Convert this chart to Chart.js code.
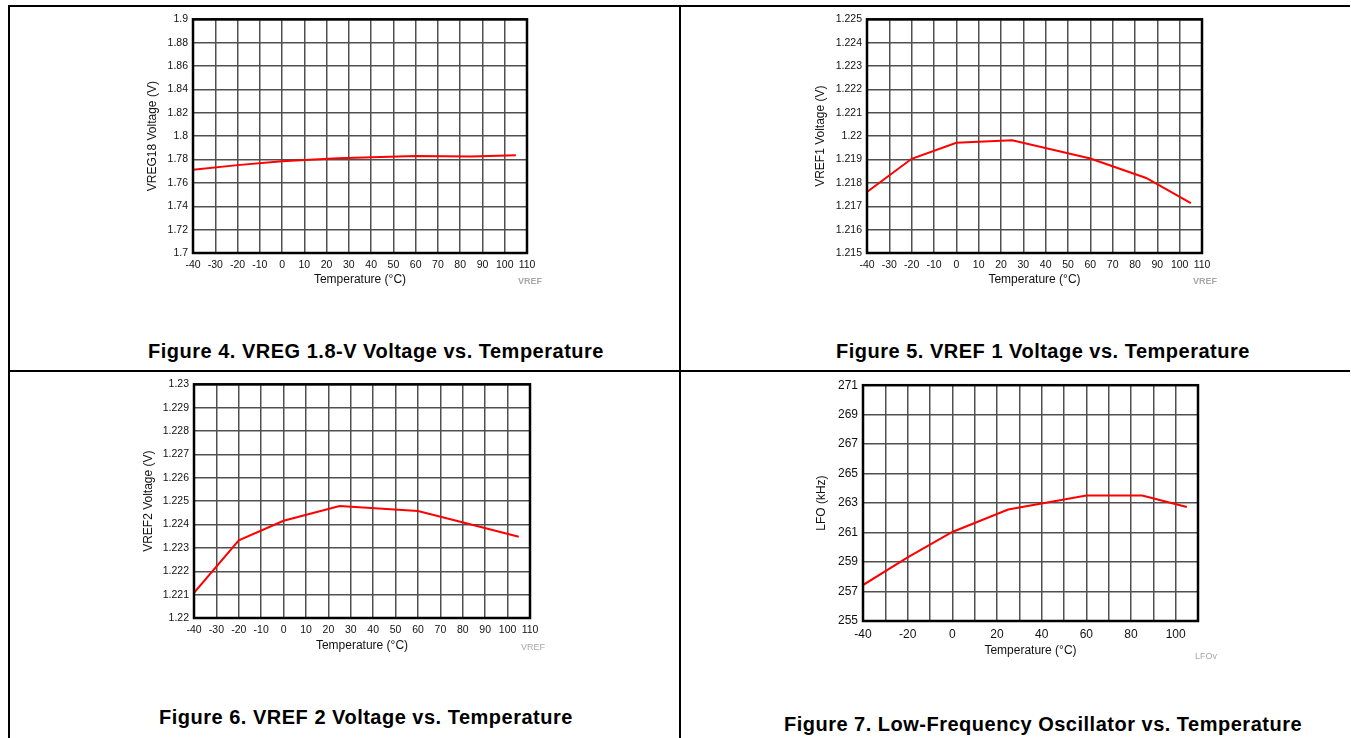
<!DOCTYPE html>
<html lang="en">
<head>
    <meta charset="UTF-8">
    <title>Typical Characteristics - Temperature</title>
    <script src="https://cdn.jsdelivr.net/npm/chart.js"></script>
    <style>
        html, body {
            margin: 0;
            padding: 0;
            width: 1351px;
            height: 738px;
            overflow: hidden;
            background: #fff;
            font-family: "Liberation Sans", Arial, sans-serif;
        }
        .rule { position: absolute; background: #000; }
        canvas { position: absolute; }
        .caption {
            position: absolute;
            width: 700px;
            text-align: center;
            font-weight: bold;
            font-size: 20px;
            letter-spacing: 0.5px;
            line-height: 22px;
            color: #000;
            white-space: nowrap;
        }
        .tag {
            position: absolute;
            width: 60px;
            text-align: center;
            font-size: 9px;
            line-height: 10px;
            color: #a8a8a8;
        }
    </style>
</head>
<body>
    <!-- table rules -->
    <div class="rule" style="left:8px; top:5px; width:1342px; height:1.5px;"></div>
    <div class="rule" style="left:8px; top:370px; width:1342px; height:1.5px;"></div>
    <div class="rule" style="left:8px; top:5px; width:1.5px; height:733px;"></div>
    <div class="rule" style="left:679px; top:5px; width:1.5px; height:733px;"></div>

    <canvas id="c1"></canvas>
    <canvas id="c2"></canvas>
    <canvas id="c3"></canvas>
    <canvas id="c4"></canvas>

    <div class="tag" style="left:500px; top:276px; font-weight:bold;">VREF</div>
    <div class="tag" style="left:1175px; top:276px; font-weight:bold;">VREF</div>
    <div class="tag" style="left:503px; top:642px;">VREF</div>
    <div class="tag" style="left:1176px; top:651px;">LFOv</div>

    <div class="caption" style="left:26px; top:340px;">Figure 4. VREG 1.8-V Voltage vs. Temperature</div>
    <div class="caption" style="left:693px; top:340px;">Figure 5. VREF 1 Voltage vs. Temperature</div>
    <div class="caption" style="left:16px; top:706px;">Figure 6. VREF 2 Voltage vs. Temperature</div>
    <div class="caption" style="left:693px; top:713px;">Figure 7. Low-Frequency Oscillator vs. Temperature</div>

    <script>
        // measured points (°C)
        const temps = [-40, -20, 0, 25, 60, 85, 105];
        const vreg18 = [1.7713, 1.7752, 1.7786, 1.7811, 1.7831, 1.7825, 1.7837];
        const vref1 = [1.21761, 1.21903, 1.21972, 1.21982, 1.21904, 1.21821, 1.21713];
        const vref2 = [1.22108, 1.22332, 1.22416, 1.22479, 1.22458, 1.22397, 1.22348];
        const lfo = [257.44, 259.31, 261.04, 262.56, 263.51, 263.51, 262.73];

        // axis ticks
        const tempTicks = [-40, -30, -20, -10, 0, 10, 20, 30, 40, 50, 60, 70, 80, 90, 100, 110];
        const lfoTempLabels = [-40, -20, 0, 20, 40, 60, 80, 100];
        const vreg18Ticks = [1.7, 1.72, 1.74, 1.76, 1.78, 1.8, 1.82, 1.84, 1.86, 1.88, 1.9];
        const vref1Ticks = [1.215, 1.216, 1.217, 1.218, 1.219, 1.22, 1.221, 1.222, 1.223, 1.224, 1.225];
        const vref2Ticks = [1.22, 1.221, 1.222, 1.223, 1.224, 1.225, 1.226, 1.227, 1.228, 1.229, 1.23];
        const lfoTicks = [255, 257, 259, 261, 263, 265, 267, 269, 271];

        const FONT = "'Liberation Sans', Arial, sans-serif";

        // frame around the plot area
        const framePlugin = {
            id: 'frame',
            afterDraw(chart) {
                const a = chart.chartArea;
                const ctx = chart.ctx;
                ctx.save();
                ctx.strokeStyle = '#000';
                ctx.lineWidth = 2.5;
                ctx.strokeRect(a.left, a.top, a.right - a.left, a.bottom - a.top);
                ctx.restore();
            }
        };

        function makePanel(id, p) {
            const cv = document.getElementById(id);
            const [bl, bt, bw, bh] = p.box;
            cv.width = bw; cv.height = bh;
            cv.style.left = bl + 'px'; cv.style.top = bt + 'px';
            cv.style.width = bw + 'px'; cv.style.height = bh + 'px';

            const lh = 12 * 1.2;
            const padLeft = p.yTitleX - lh / 2 - bl;
            const yWidth = p.plot[0] - bl - padLeft;
            const padTop = p.plot[1] - bt;
            const padRight = bl + bw - p.plot[2];
            const xBottom = p.xTitleY + lh / 2;
            const padBottom = bt + bh - xBottom;
            const xHeight = xBottom - p.plot[3];

            const grid = { color: '#505050', lineWidth: 1.5, drawTicks: false };

            return new Chart(cv, {
                type: 'line',
                data: {
                    datasets: [{
                        data: temps.map((t, i) => ({ x: t, y: p.values[i] })),
                        borderColor: '#ff0000',
                        borderWidth: 2,
                        pointRadius: 0,
                        tension: 0,
                        fill: false
                    }]
                },
                options: {
                    responsive: false,
                    animation: false,
                    devicePixelRatio: 1,
                    layout: { padding: { left: padLeft, top: padTop, right: padRight, bottom: padBottom } },
                    plugins: { legend: { display: false }, tooltip: { enabled: false } },
                    scales: {
                        x: {
                            type: 'linear',
                            min: -40, max: 110,
                            grid: grid,
                            border: { display: false },
                            afterBuildTicks: axis => { axis.ticks = tempTicks.map(v => ({ value: v })); },
                            afterFit: axis => { axis.height = xHeight; },
                            ticks: {
                                padding: 6,
                                maxRotation: 0,
                                autoSkip: false,
                                color: '#111',
                                font: { family: FONT, size: p.tickSize },
                                callback: v => p.xLabels.includes(v) ? String(v) : ''
                            },
                            title: {
                                display: true,
                                text: 'Temperature (°C)',
                                color: '#111',
                                padding: 0,
                                font: { family: FONT, size: 12 }
                            }
                        },
                        y: {
                            min: p.yTicks[0], max: p.yTicks[p.yTicks.length - 1],
                            grid: grid,
                            border: { display: false },
                            afterBuildTicks: axis => { axis.ticks = p.yTicks.map(v => ({ value: v })); },
                            afterFit: axis => { axis.width = yWidth; },
                            ticks: {
                                padding: 5,
                                autoSkip: false,
                                color: '#111',
                                font: { family: FONT, size: p.tickSize },
                                callback: v => String(v)
                            },
                            title: {
                                display: true,
                                text: p.yTitle,
                                color: '#111',
                                padding: 0,
                                font: { family: FONT, size: 12 }
                            }
                        }
                    }
                },
                plugins: [framePlugin]
            });
        }

        makePanel('c1', {
            box: [100, 8, 470, 290], plot: [193, 17, 527, 253],
            yTitleX: 153, xTitleY: 280, tickSize: 10.5,
            values: vreg18, yTicks: vreg18Ticks, xLabels: tempTicks,
            yTitle: 'VREG18 Voltage (V)'
        });
        makePanel('c2', {
            box: [770, 8, 470, 290], plot: [867, 16, 1202, 253],
            yTitleX: 821, xTitleY: 280, tickSize: 10.5,
            values: vref1, yTicks: vref1Ticks, xLabels: tempTicks,
            yTitle: 'VREF1 Voltage (V)'
        });
        makePanel('c3', {
            box: [100, 373, 470, 290], plot: [194, 380, 530, 618],
            yTitleX: 149, xTitleY: 646, tickSize: 10.5,
            values: vref2, yTicks: vref2Ticks, xLabels: tempTicks,
            yTitle: 'VREF2 Voltage (V)'
        });
        makePanel('c4', {
            box: [770, 373, 470, 295], plot: [863, 384, 1198, 621],
            yTitleX: 822, xTitleY: 651, tickSize: 12,
            values: lfo, yTicks: lfoTicks, xLabels: lfoTempLabels,
            yTitle: 'LFO (kHz)'
        });
    </script>
</body>
</html>
